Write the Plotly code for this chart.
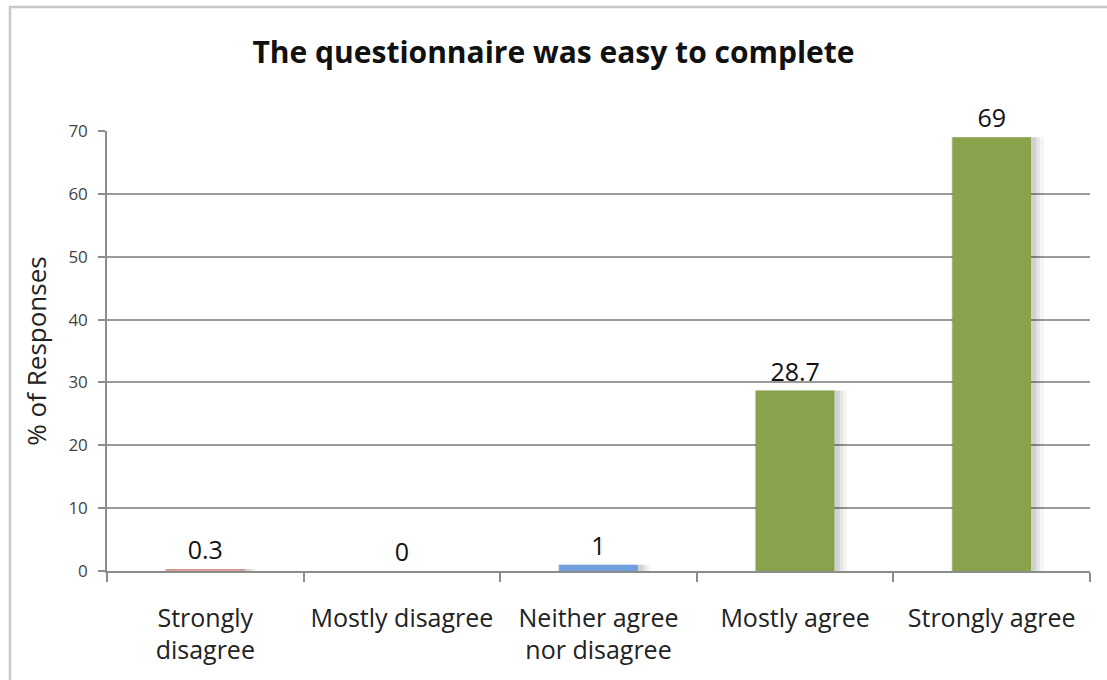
import plotly.graph_objects as go

categories = ["Strongly<br>disagree", "Mostly disagree", "Neither agree<br>nor disagree", "Mostly agree", "Strongly agree"]
values = [0.3, 0, 1, 28.7, 69]
value_labels = ["0.3", "0", "1", "28.7", "69"]
bar_colors = ["#d99a97", "#8aa7d6", "#6f9fdc", "#89a34c", "#89a34c"]
y_ticks = [0, 10, 20, 30, 40, 50, 60, 70]

FONT = "Open Sans"

fig = go.Figure()
# soft drop shadow layers (drawn from the same data)
for w, off, a in [(0.47, -0.205, 0.04), (0.45, -0.205, 0.06), (0.43, -0.203, 0.09)]:
    fig.add_trace(go.Bar(
        x=categories, y=values, width=w, offset=off,
        marker=dict(color=f"rgba(0,0,0,{a})", line=dict(width=0)),
        hoverinfo="skip", showlegend=False,
    ))
fig.add_trace(go.Bar(
    x=categories, y=values, width=0.4, offset=-0.2,
    marker=dict(color=bar_colors, line=dict(width=0)),
    text=value_labels, textposition="outside",
    textfont=dict(family=FONT, size=25, color="#111111"),
    cliponaxis=False,
    showlegend=False,
))

fig.update_layout(
    width=1107, height=680,
    margin=dict(l=107, r=17, t=131, b=109),
    paper_bgcolor="white", plot_bgcolor="white",
    barmode="overlay",
    title=dict(text="<b>The questionnaire was easy to complete</b>",
               x=0.5, xanchor="center", y=1 - 52/680, yanchor="middle",
               font=dict(family=FONT, size=30, color="#111111")),
    font=dict(family=FONT, color="#222222"),
    xaxis=dict(
        type="category", showgrid=False,
        showline=True, linecolor="#8c8c8c", linewidth=1.5,
        ticks="outside", tickson="boundaries", ticklen=9, tickcolor="#8c8c8c", tickwidth=1.5,
        tickfont=dict(family=FONT, size=25, color="#222222"),
        ticklabelstandoff=24,
    ),
    yaxis=dict(
        range=[0, 70], tickvals=y_ticks,
        showgrid=True, gridcolor="#9a9a9a", gridwidth=1.5,
        showline=True, linecolor="#8c8c8c", linewidth=1.5,
        ticks="outside", ticklen=7, tickcolor="#8c8c8c", tickwidth=1.5,
        tickfont=dict(family=FONT, size=17, color="#444444"),
        ticklabelstandoff=7,
        zeroline=False,
        title=dict(text="% of Responses", font=dict(family=FONT, size=26, color="#222222"), standoff=14),
    ),
    shapes=[dict(type="rect", xref="paper", yref="paper",
                 x0=(10-107)/983, x1=1.2, y0=-1, y1=(571-7)/440,
                 line=dict(color="#c8c8c8", width=2.5), layer="below")],
)

fig.write_html("out.html")
